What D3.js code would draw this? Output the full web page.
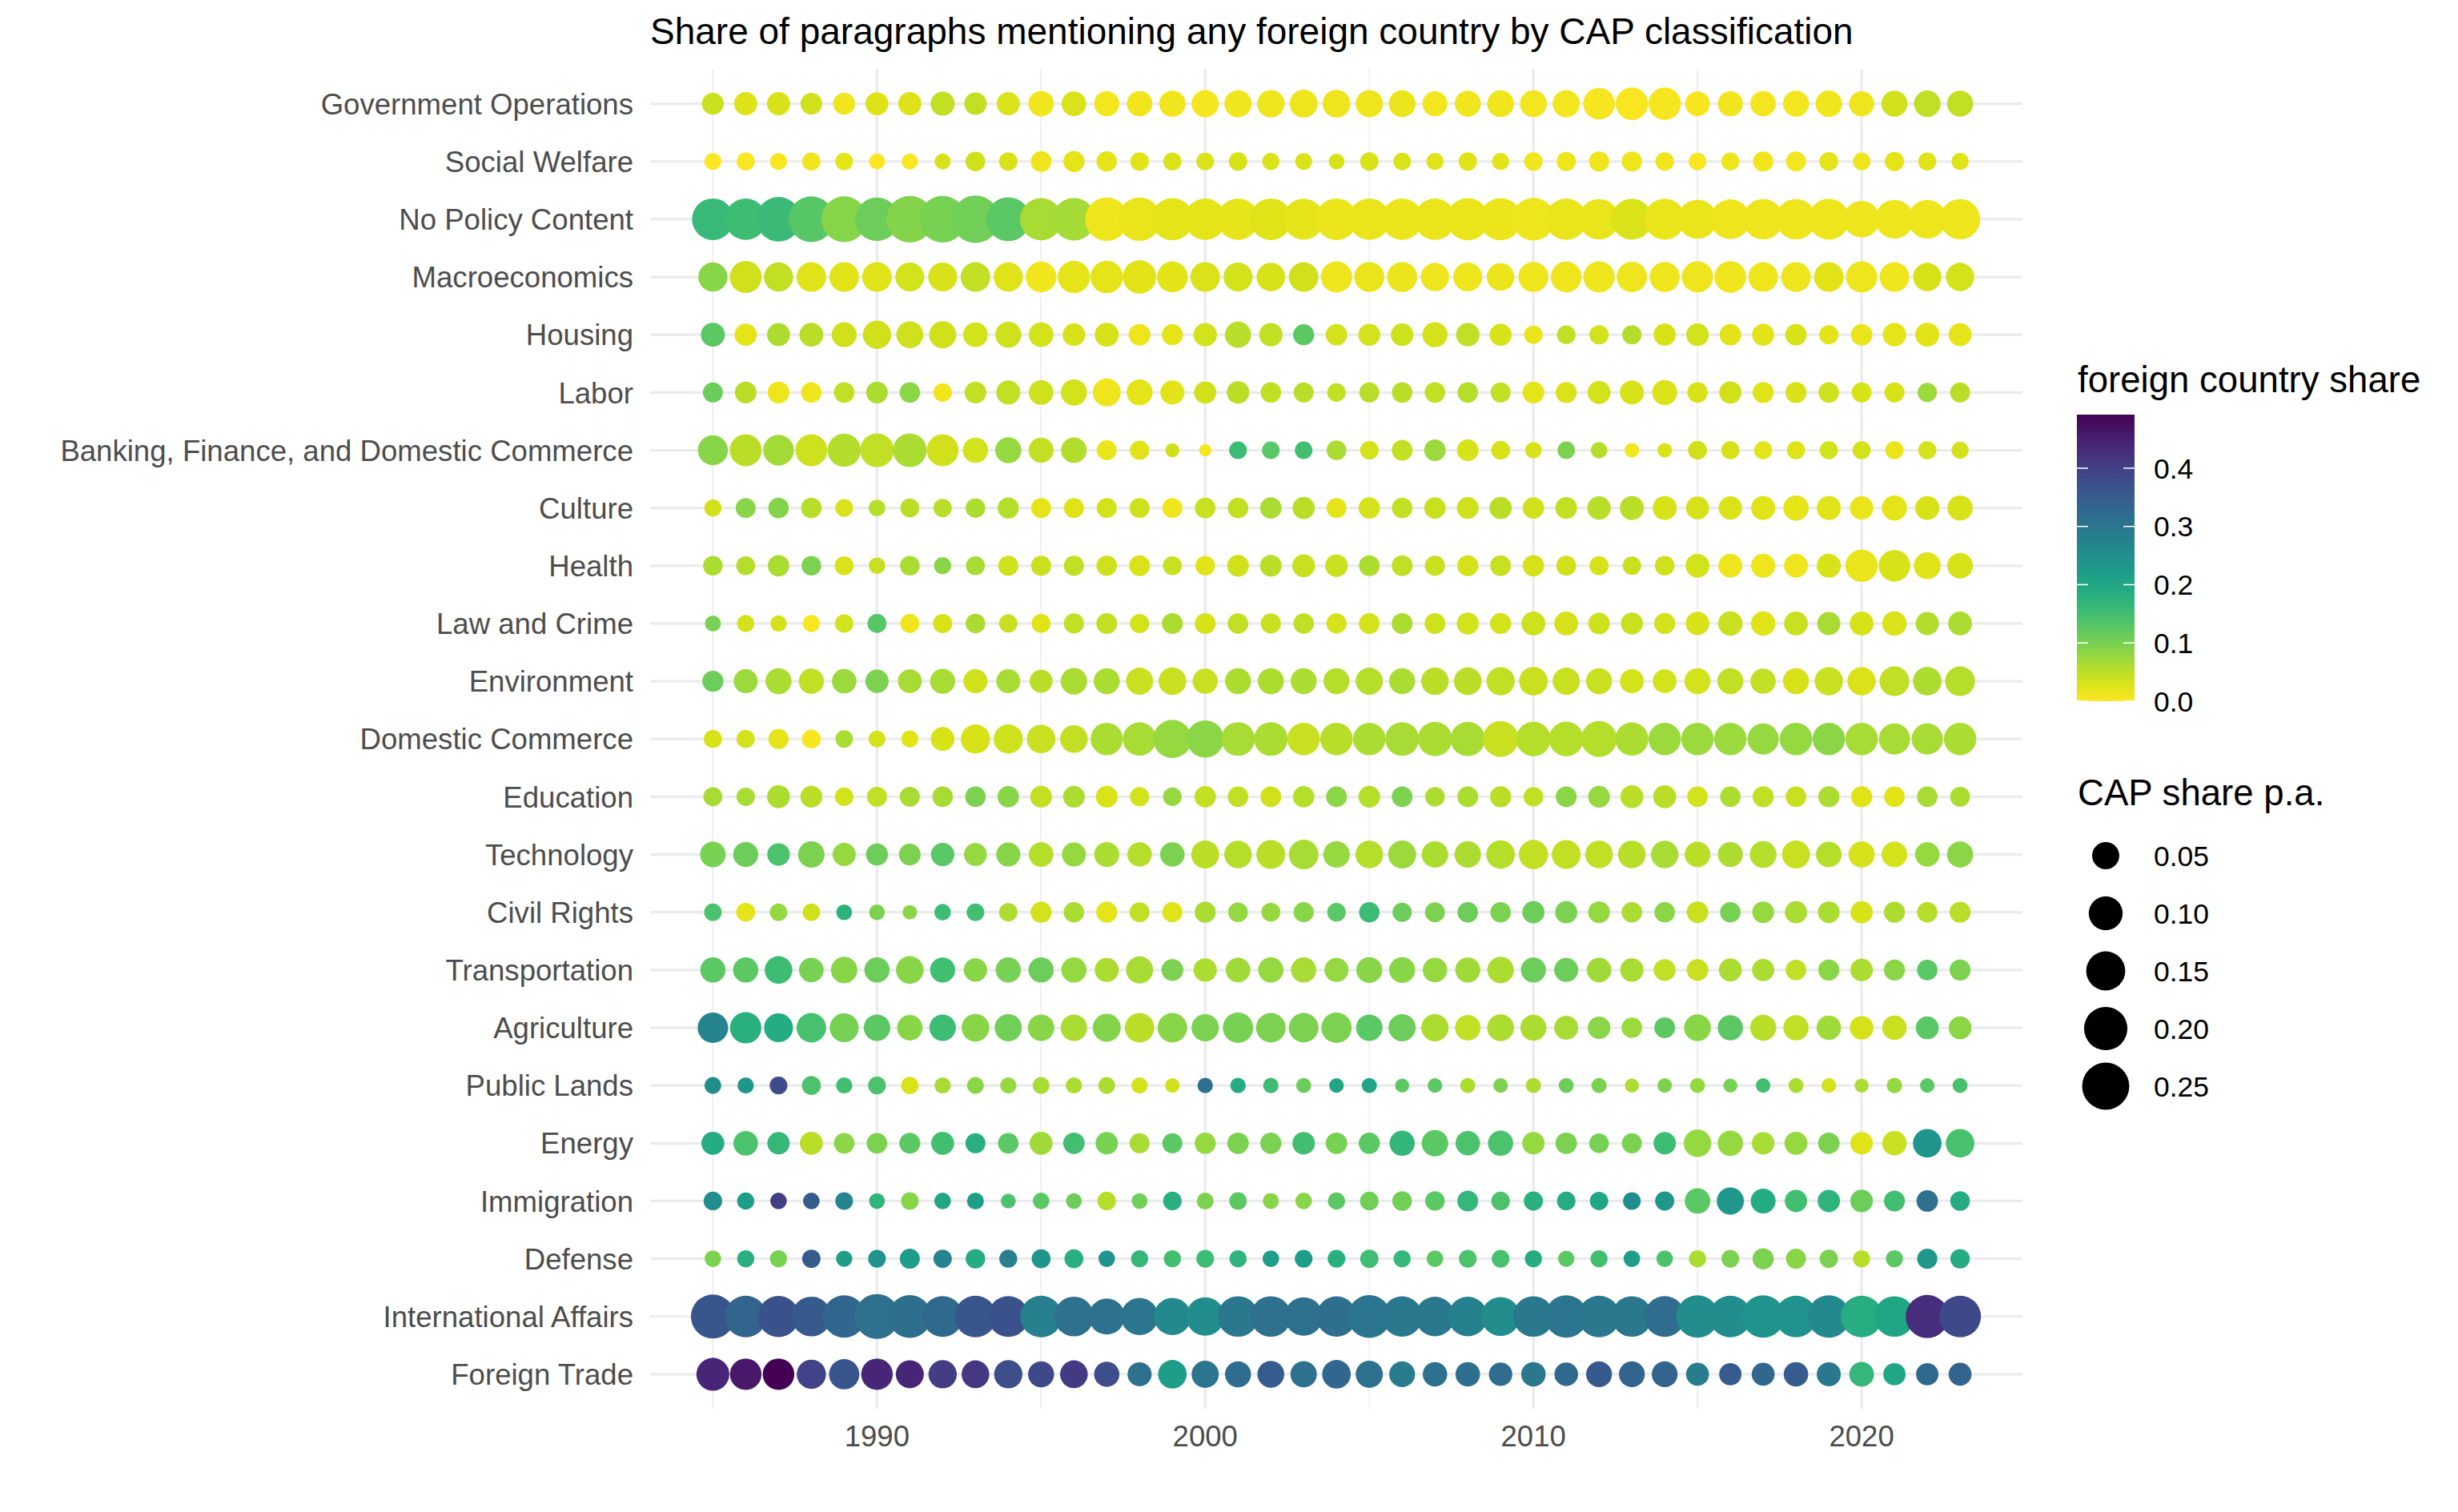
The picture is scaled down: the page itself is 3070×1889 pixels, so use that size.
<!DOCTYPE html>
<html>
<head>
<meta charset="utf-8">
<script src="https://cdn.jsdelivr.net/npm/d3@7"></script>
<style>
  body { margin: 0; background: #fff; }
  text { font-family: "Liberation Sans", Arial, sans-serif; }
</style>
</head>
<body>
<svg id="chart" width="3070" height="1889"></svg>
<script>
// ---- data ----
const categories = [
  "Government Operations", "Social Welfare", "No Policy Content", "Macroeconomics",
  "Housing", "Labor", "Banking, Finance, and Domestic Commerce", "Culture", "Health",
  "Law and Crime", "Environment", "Domestic Commerce", "Education", "Technology",
  "Civil Rights", "Transportation", "Agriculture", "Public Lands", "Energy",
  "Immigration", "Defense", "International Affairs", "Foreign Trade"
];

const years = [1985, 1986, 1987, 1988, 1989, 1990, 1991, 1992, 1993, 1994,
  1995, 1996, 1997, 1998, 1999, 2000, 2001, 2002, 2003, 2004,
  2005, 2006, 2007, 2008, 2009, 2010, 2011, 2012, 2013, 2014,
  2015, 2016, 2017, 2018, 2019, 2020, 2021, 2022, 2023];

const xTicks = [1990, 2000, 2010, 2020];
const xMinorTicks = [1985, 1995, 2005, 2015];

// CAP share p.a. (point size), one row per category, 1985..2023
const capShare = [
  [0.024,0.029,0.029,0.023,0.024,0.028,0.029,0.033,0.026,0.029,0.040,0.036,0.038,0.040,0.045,0.050,0.050,0.052,0.055,0.053,0.050,0.048,0.038,0.043,0.048,0.048,0.050,0.081,0.088,0.088,0.036,0.038,0.040,0.043,0.046,0.038,0.043,0.046,0.043],
  [0.0095,0.012,0.0095,0.012,0.011,0.008,0.008,0.008,0.016,0.013,0.0195,0.021,0.018,0.013,0.012,0.011,0.013,0.010,0.0095,0.0075,0.0127,0.0107,0.0098,0.0127,0.0098,0.0127,0.015,0.0177,0.0177,0.0127,0.0107,0.0117,0.0177,0.017,0.014,0.0107,0.015,0.0117,0.0098],
  [0.179,0.176,0.216,0.230,0.230,0.203,0.244,0.244,0.256,0.208,0.186,0.192,0.200,0.200,0.186,0.176,0.176,0.179,0.171,0.179,0.176,0.176,0.176,0.186,0.186,0.192,0.176,0.164,0.171,0.171,0.151,0.158,0.164,0.164,0.171,0.126,0.145,0.145,0.164],
  [0.063,0.083,0.063,0.066,0.067,0.066,0.061,0.061,0.066,0.063,0.074,0.086,0.088,0.096,0.074,0.067,0.061,0.059,0.066,0.078,0.069,0.069,0.057,0.061,0.053,0.069,0.074,0.078,0.072,0.069,0.078,0.081,0.066,0.067,0.066,0.078,0.066,0.057,0.057],
  [0.033,0.025,0.028,0.032,0.038,0.057,0.048,0.050,0.036,0.043,0.036,0.0265,0.033,0.023,0.0206,0.030,0.044,0.030,0.0206,0.022,0.024,0.0265,0.038,0.030,0.024,0.0127,0.013,0.015,0.015,0.025,0.0265,0.022,0.024,0.022,0.015,0.022,0.030,0.033,0.028],
  [0.017,0.023,0.023,0.0187,0.0187,0.023,0.0187,0.013,0.023,0.033,0.036,0.044,0.055,0.043,0.033,0.025,0.0265,0.0187,0.017,0.013,0.017,0.0187,0.0187,0.0187,0.017,0.023,0.0206,0.028,0.033,0.038,0.0187,0.025,0.0206,0.0206,0.0187,0.017,0.017,0.015,0.017],
  [0.069,0.083,0.074,0.083,0.093,0.098,0.098,0.083,0.039,0.044,0.038,0.041,0.017,0.015,0.0057,0.005,0.011,0.0108,0.0108,0.016,0.0127,0.0198,0.022,0.023,0.014,0.0088,0.0105,0.0088,0.006,0.006,0.014,0.012,0.012,0.012,0.012,0.012,0.012,0.012,0.0098],
  [0.0098,0.017,0.0187,0.0187,0.011,0.0088,0.014,0.0127,0.016,0.0206,0.017,0.017,0.017,0.017,0.017,0.0187,0.0187,0.022,0.025,0.017,0.022,0.0187,0.022,0.023,0.025,0.022,0.023,0.030,0.033,0.033,0.028,0.030,0.033,0.039,0.033,0.030,0.038,0.033,0.039],
  [0.016,0.014,0.022,0.016,0.014,0.0088,0.016,0.0098,0.014,0.0177,0.0177,0.0177,0.0187,0.0198,0.014,0.016,0.023,0.023,0.028,0.0265,0.0198,0.0198,0.0177,0.0206,0.0198,0.022,0.017,0.015,0.0127,0.016,0.032,0.032,0.033,0.032,0.033,0.086,0.081,0.048,0.041],
  [0.0078,0.0098,0.0083,0.0098,0.0127,0.014,0.014,0.015,0.016,0.0127,0.014,0.0177,0.0198,0.015,0.0198,0.0198,0.0187,0.0177,0.0187,0.0177,0.0198,0.0198,0.0198,0.024,0.0206,0.032,0.032,0.022,0.024,0.0206,0.030,0.035,0.035,0.032,0.029,0.032,0.035,0.029,0.032],
  [0.0206,0.033,0.043,0.039,0.035,0.030,0.032,0.038,0.033,0.033,0.028,0.046,0.043,0.050,0.053,0.039,0.043,0.043,0.043,0.043,0.050,0.043,0.052,0.053,0.057,0.059,0.050,0.043,0.033,0.032,0.043,0.043,0.039,0.043,0.057,0.057,0.067,0.059,0.067],
  [0.012,0.012,0.0177,0.014,0.0105,0.0093,0.0098,0.032,0.063,0.063,0.059,0.053,0.086,0.096,0.141,0.131,0.098,0.098,0.088,0.088,0.088,0.098,0.104,0.104,0.117,0.106,0.106,0.117,0.093,0.088,0.088,0.088,0.078,0.088,0.088,0.088,0.078,0.078,0.088],
  [0.014,0.0127,0.028,0.024,0.013,0.017,0.017,0.0187,0.0187,0.022,0.023,0.023,0.023,0.015,0.013,0.022,0.0187,0.0198,0.022,0.0198,0.023,0.0198,0.016,0.0198,0.0206,0.016,0.0198,0.023,0.028,0.028,0.0187,0.0187,0.0206,0.0187,0.0206,0.0206,0.0187,0.0187,0.017],
  [0.041,0.038,0.0265,0.046,0.029,0.024,0.023,0.030,0.028,0.033,0.036,0.033,0.038,0.035,0.035,0.055,0.052,0.061,0.066,0.046,0.053,0.055,0.046,0.046,0.059,0.063,0.061,0.053,0.053,0.052,0.041,0.038,0.048,0.055,0.041,0.044,0.041,0.035,0.044],
  [0.0105,0.014,0.0105,0.0105,0.0074,0.0074,0.006,0.0088,0.011,0.0127,0.0206,0.0187,0.0206,0.017,0.0177,0.0206,0.016,0.014,0.0177,0.013,0.0187,0.015,0.017,0.0187,0.0187,0.025,0.025,0.023,0.0187,0.0187,0.023,0.0187,0.023,0.025,0.023,0.025,0.0206,0.0187,0.0206],
  [0.039,0.039,0.053,0.036,0.046,0.039,0.053,0.038,0.030,0.039,0.039,0.039,0.033,0.050,0.024,0.030,0.036,0.039,0.039,0.033,0.043,0.043,0.035,0.038,0.046,0.038,0.033,0.036,0.030,0.024,0.023,0.028,0.025,0.0187,0.0206,0.0265,0.0206,0.0187,0.0206],
  [0.072,0.079,0.061,0.066,0.061,0.046,0.040,0.046,0.053,0.050,0.046,0.046,0.055,0.065,0.066,0.051,0.071,0.066,0.066,0.071,0.046,0.050,0.051,0.040,0.048,0.043,0.033,0.0265,0.019,0.0198,0.048,0.039,0.043,0.039,0.035,0.031,0.035,0.028,0.028],
  [0.0093,0.0083,0.011,0.014,0.0083,0.011,0.0105,0.0083,0.0093,0.0083,0.0093,0.0083,0.0093,0.0083,0.006,0.007,0.007,0.007,0.0064,0.0061,0.0067,0.0056,0.006,0.0067,0.006,0.0067,0.0064,0.0067,0.0056,0.006,0.0064,0.0056,0.006,0.0064,0.006,0.0056,0.007,0.006,0.0064],
  [0.028,0.036,0.0255,0.028,0.019,0.019,0.020,0.028,0.0172,0.019,0.028,0.022,0.0255,0.0172,0.0172,0.021,0.022,0.021,0.0265,0.022,0.021,0.039,0.046,0.035,0.039,0.0255,0.022,0.016,0.0172,0.0255,0.052,0.040,0.0265,0.028,0.022,0.0265,0.035,0.059,0.059],
  [0.013,0.0098,0.0088,0.0088,0.011,0.0074,0.011,0.0088,0.0093,0.0064,0.0088,0.0074,0.013,0.0074,0.013,0.0093,0.0105,0.0079,0.0088,0.0098,0.013,0.016,0.0155,0.020,0.013,0.0145,0.013,0.0125,0.011,0.0145,0.040,0.050,0.037,0.0255,0.0255,0.0265,0.020,0.022,0.016],
  [0.0088,0.0098,0.0098,0.0125,0.0084,0.011,0.0172,0.0125,0.0155,0.0117,0.014,0.014,0.0088,0.0098,0.0098,0.011,0.0098,0.0088,0.011,0.011,0.0125,0.0098,0.0088,0.011,0.011,0.0098,0.0084,0.0098,0.0088,0.0088,0.0098,0.011,0.021,0.0172,0.0125,0.0098,0.0098,0.018,0.0155],
  [0.208,0.180,0.173,0.157,0.190,0.220,0.194,0.170,0.180,0.170,0.180,0.157,0.119,0.130,0.130,0.143,0.167,0.167,0.143,0.164,0.194,0.164,0.154,0.154,0.148,0.167,0.190,0.180,0.167,0.170,0.190,0.180,0.190,0.180,0.190,0.180,0.167,0.197,0.180],
  [0.091,0.080,0.080,0.063,0.071,0.080,0.055,0.057,0.053,0.057,0.043,0.053,0.039,0.033,0.059,0.050,0.043,0.048,0.045,0.059,0.050,0.042,0.035,0.035,0.030,0.035,0.031,0.042,0.042,0.042,0.028,0.0255,0.028,0.035,0.033,0.036,0.0255,0.0255,0.028]
];

// foreign country share (point colour), same layout
const foreignShare = [
  [0.04,0.025,0.03,0.035,0.01,0.025,0.025,0.045,0.045,0.028,0.01,0.028,0.008,0.01,0.01,0.007,0.01,0.013,0.013,0.012,0.013,0.015,0.008,0.01,0.01,0.008,0.008,0.006,0.004,0.006,0.006,0.01,0.008,0.008,0.01,0.013,0.035,0.048,0.045],
  [0,0.003,0.005,0.01,0.02,0.003,0.005,0.03,0.035,0.03,0.012,0.02,0.02,0.022,0.027,0.027,0.03,0.027,0.027,0.03,0.03,0.027,0.024,0.024,0.022,0.01,0.012,0.01,0.012,0.011,0.004,0.013,0.011,0.008,0.02,0.012,0.02,0.024,0.024],
  [0.16,0.155,0.158,0.13,0.09,0.11,0.092,0.1,0.107,0.125,0.065,0.066,0.012,0.017,0.02,0.02,0.019,0.024,0.02,0.015,0.017,0.015,0.017,0.017,0.015,0.013,0.017,0.017,0.027,0.017,0.017,0.013,0.013,0.013,0.013,0.012,0.012,0.012,0.012],
  [0.088,0.035,0.045,0.024,0.022,0.024,0.033,0.03,0.045,0.024,0.01,0.02,0.02,0.022,0.022,0.027,0.033,0.03,0.035,0.013,0.017,0.015,0.012,0.012,0.015,0.012,0.012,0.012,0.012,0.012,0.013,0.013,0.012,0.012,0.022,0.013,0.01,0.03,0.033],
  [0.124,0.02,0.06,0.05,0.035,0.035,0.038,0.035,0.033,0.038,0.033,0.03,0.03,0.013,0.02,0.033,0.052,0.045,0.124,0.033,0.033,0.038,0.032,0.048,0.03,0.017,0.048,0.033,0.056,0.03,0.033,0.022,0.022,0.03,0.022,0.017,0.02,0.022,0.02],
  [0.11,0.05,0.012,0.012,0.045,0.06,0.085,0.01,0.045,0.048,0.038,0.033,0.013,0.02,0.022,0.035,0.05,0.045,0.052,0.045,0.052,0.052,0.048,0.054,0.045,0.02,0.027,0.033,0.03,0.027,0.03,0.035,0.024,0.03,0.038,0.03,0.03,0.074,0.05],
  [0.088,0.05,0.068,0.038,0.056,0.048,0.063,0.035,0.033,0.078,0.045,0.056,0.017,0.024,0.035,0.006,0.155,0.125,0.148,0.063,0.033,0.045,0.074,0.03,0.03,0.03,0.097,0.054,0.01,0.027,0.035,0.032,0.02,0.024,0.033,0.032,0.017,0.032,0.033],
  [0.035,0.088,0.092,0.052,0.027,0.054,0.05,0.052,0.06,0.054,0.02,0.024,0.033,0.038,0.012,0.042,0.045,0.063,0.05,0.02,0.032,0.045,0.042,0.038,0.05,0.035,0.045,0.052,0.05,0.03,0.032,0.027,0.024,0.02,0.024,0.017,0.02,0.03,0.03],
  [0.06,0.054,0.063,0.097,0.027,0.042,0.063,0.088,0.065,0.038,0.042,0.048,0.038,0.027,0.042,0.022,0.035,0.05,0.042,0.042,0.06,0.048,0.042,0.032,0.042,0.032,0.035,0.03,0.042,0.038,0.033,0.013,0.013,0.012,0.03,0.017,0.03,0.024,0.03],
  [0.1,0.033,0.033,0.004,0.033,0.13,0.012,0.03,0.063,0.042,0.024,0.048,0.045,0.033,0.063,0.03,0.045,0.042,0.048,0.03,0.033,0.06,0.038,0.033,0.033,0.038,0.032,0.038,0.042,0.033,0.03,0.042,0.024,0.042,0.065,0.03,0.027,0.056,0.063],
  [0.11,0.074,0.063,0.048,0.074,0.097,0.065,0.065,0.035,0.065,0.05,0.063,0.063,0.042,0.042,0.042,0.06,0.06,0.063,0.054,0.054,0.063,0.05,0.05,0.048,0.042,0.042,0.042,0.033,0.033,0.033,0.045,0.045,0.03,0.042,0.027,0.048,0.06,0.054],
  [0.03,0.033,0.02,0.004,0.063,0.033,0.022,0.03,0.03,0.038,0.042,0.045,0.063,0.065,0.078,0.085,0.065,0.063,0.042,0.052,0.063,0.065,0.063,0.065,0.042,0.054,0.054,0.054,0.06,0.074,0.074,0.074,0.078,0.078,0.085,0.065,0.065,0.065,0.063],
  [0.065,0.065,0.06,0.05,0.033,0.048,0.065,0.065,0.097,0.088,0.045,0.06,0.027,0.033,0.078,0.045,0.045,0.035,0.054,0.085,0.054,0.097,0.06,0.063,0.05,0.048,0.085,0.078,0.05,0.05,0.033,0.06,0.048,0.042,0.06,0.024,0.022,0.065,0.063],
  [0.1,0.11,0.14,0.097,0.078,0.11,0.097,0.125,0.078,0.088,0.054,0.078,0.063,0.054,0.097,0.05,0.054,0.05,0.065,0.078,0.054,0.074,0.06,0.06,0.054,0.045,0.045,0.048,0.052,0.065,0.05,0.06,0.054,0.042,0.054,0.032,0.033,0.078,0.085],
  [0.14,0.02,0.078,0.035,0.175,0.097,0.085,0.155,0.148,0.06,0.033,0.063,0.02,0.048,0.024,0.063,0.078,0.078,0.088,0.125,0.155,0.11,0.097,0.11,0.097,0.11,0.097,0.078,0.063,0.085,0.042,0.1,0.078,0.063,0.063,0.03,0.06,0.054,0.052],
  [0.124,0.124,0.155,0.1,0.088,0.11,0.088,0.148,0.088,0.1,0.11,0.078,0.06,0.065,0.097,0.06,0.07,0.078,0.065,0.078,0.088,0.088,0.078,0.07,0.06,0.11,0.11,0.07,0.065,0.048,0.042,0.063,0.063,0.048,0.085,0.06,0.085,0.125,0.097],
  [0.27,0.18,0.19,0.143,0.102,0.124,0.088,0.155,0.088,0.107,0.088,0.063,0.092,0.05,0.088,0.097,0.1,0.097,0.097,0.097,0.125,0.11,0.06,0.048,0.06,0.06,0.065,0.085,0.074,0.124,0.088,0.124,0.052,0.048,0.07,0.032,0.042,0.125,0.085],
  [0.25,0.23,0.38,0.14,0.148,0.14,0.027,0.065,0.088,0.078,0.065,0.06,0.06,0.033,0.035,0.31,0.19,0.155,0.11,0.2,0.2,0.124,0.124,0.06,0.097,0.06,0.11,0.097,0.06,0.097,0.078,0.1,0.148,0.06,0.033,0.063,0.078,0.124,0.143],
  [0.19,0.14,0.165,0.05,0.085,0.097,0.124,0.148,0.18,0.125,0.07,0.148,0.1,0.065,0.124,0.078,0.097,0.097,0.148,0.1,0.125,0.168,0.124,0.14,0.14,0.078,0.097,0.1,0.097,0.155,0.078,0.078,0.065,0.078,0.097,0.024,0.042,0.235,0.143],
  [0.25,0.22,0.4,0.35,0.27,0.172,0.088,0.2,0.22,0.14,0.125,0.11,0.054,0.107,0.18,0.097,0.124,0.088,0.088,0.124,0.107,0.107,0.124,0.165,0.14,0.18,0.19,0.2,0.25,0.23,0.125,0.23,0.19,0.148,0.172,0.11,0.148,0.31,0.19],
  [0.097,0.18,0.1,0.35,0.22,0.24,0.22,0.27,0.19,0.28,0.235,0.18,0.24,0.165,0.148,0.155,0.172,0.22,0.22,0.18,0.15,0.165,0.124,0.14,0.143,0.19,0.124,0.148,0.22,0.14,0.063,0.097,0.097,0.088,0.097,0.054,0.124,0.23,0.19],
  [0.36,0.335,0.37,0.355,0.33,0.31,0.315,0.325,0.36,0.37,0.28,0.31,0.31,0.3,0.26,0.25,0.295,0.31,0.31,0.315,0.3,0.295,0.295,0.28,0.25,0.295,0.3,0.295,0.295,0.32,0.25,0.25,0.24,0.24,0.26,0.185,0.2,0.43,0.384],
  [0.44,0.46,0.492,0.395,0.36,0.44,0.44,0.405,0.415,0.375,0.384,0.41,0.375,0.31,0.22,0.3,0.32,0.35,0.31,0.33,0.31,0.29,0.31,0.315,0.32,0.295,0.325,0.355,0.335,0.335,0.29,0.35,0.33,0.35,0.295,0.165,0.2,0.325,0.335]
];

const sizeBreaks = [0.05, 0.10, 0.15, 0.20, 0.25];
const colorTicks = [0.0, 0.1, 0.2, 0.3, 0.4];

const titleText = "Share of paragraphs mentioning any foreign country by CAP classification";

// ---- layout ----
const svg = d3.select("#chart");
const panel = { left: 812.5, right: 2526, top: 86.3, bottom: 1760.2 };
const axisColor = "#4d4d4d";
const gridColor = "#ebebeb";

let points = [];
categories.forEach((cat, i) => {
  years.forEach((yr, j) => {
    points.push({ cat: cat, year: yr, cap: capShare[i][j], foreign: foreignShare[i][j] });
  });
});

let x = d3.scaleLinear()
  .domain([1983.1, 2024.9])
  .range([panel.left, panel.right]);

let y = d3.scalePoint()
  .domain(categories)
  .range([panel.top, panel.bottom])
  .padding(0.6);

// ggplot-like area palette: diameter grows with sqrt of (value - min)
let capMin = d3.min(points, d => d.cap);
let sizeSqrt = d3.scaleSqrt().domain([0, 1]).range([0, 88]);
function diameter(v) { return 15.3 + sizeSqrt(Math.max(0, v - capMin)); }

let colorMax = d3.max(points, d => d.foreign);
let color = d3.scaleSequential(t => d3.interpolateViridis(1 - t))
  .domain([0, colorMax]);

/* ----------- grid ----------- */
let grid = svg.append("g");

grid.selectAll("line.minor").data(xMinorTicks).enter()
  .append("line")
  .attr("x1", d => x(d)).attr("x2", d => x(d))
  .attr("y1", panel.top).attr("y2", panel.bottom)
  .attr("stroke", gridColor).attr("stroke-width", 1.6);

grid.selectAll("line.majorx").data(xTicks).enter()
  .append("line")
  .attr("x1", d => x(d)).attr("x2", d => x(d))
  .attr("y1", panel.top).attr("y2", panel.bottom)
  .attr("stroke", gridColor).attr("stroke-width", 3.2);

grid.selectAll("line.majory").data(categories).enter()
  .append("line")
  .attr("x1", panel.left).attr("x2", panel.right)
  .attr("y1", d => y(d)).attr("y2", d => y(d))
  .attr("stroke", gridColor).attr("stroke-width", 3.2);

/* ----------- points ----------- */
svg.append("g").selectAll("circle").data(points).enter()
  .append("circle")
  .attr("cx", d => x(d.year))
  .attr("cy", d => y(d.cat))
  .attr("r", d => diameter(d.cap) / 2)
  .attr("fill", d => color(d.foreign));

/* ----------- axes ----------- */
svg.append("g").selectAll("text").data(categories).enter()
  .append("text")
  .attr("x", 791)
  .attr("y", d => y(d))
  .attr("dy", "0.36em")
  .attr("text-anchor", "end")
  .attr("font-size", 36.6)
  .attr("fill", axisColor)
  .text(d => d);

svg.append("g").selectAll("text").data(xTicks).enter()
  .append("text")
  .attr("x", d => x(d))
  .attr("y", 1807)
  .attr("text-anchor", "middle")
  .attr("font-size", 36.6)
  .attr("fill", axisColor)
  .text(d => d);

/* ----------- title ----------- */
svg.append("text")
  .attr("x", 812)
  .attr("y", 55)
  .attr("font-size", 46)
  .attr("fill", "#000")
  .text(titleText);

/* ----------- colour legend ----------- */
const bar = { x: 2594, y: 518, w: 72, h: 358 };
let legend = svg.append("g");

legend.append("text")
  .attr("x", 2595).attr("y", 490)
  .attr("font-size", 45.6)
  .text("foreign country share");

let grad = svg.append("defs").append("linearGradient")
  .attr("id", "viridisGrad")
  .attr("x1", 0).attr("y1", 1).attr("x2", 0).attr("y2", 0);
d3.range(0, 1.0001, 0.05).forEach(t => {
  grad.append("stop")
    .attr("offset", t)
    .attr("stop-color", color(t * colorMax));
});

legend.append("rect")
  .attr("x", bar.x).attr("y", bar.y)
  .attr("width", bar.w).attr("height", bar.h)
  .attr("fill", "url(#viridisGrad)");

let barScale = d3.scaleLinear()
  .domain([0, colorMax])
  .range([bar.y + bar.h, bar.y]);

colorTicks.forEach(v => {
  let ty = barScale(v);
  legend.append("line")
    .attr("x1", bar.x).attr("x2", bar.x + 14)
    .attr("y1", ty).attr("y2", ty)
    .attr("stroke", "#fff").attr("stroke-width", 1.5);
  legend.append("line")
    .attr("x1", bar.x + bar.w - 14).attr("x2", bar.x + bar.w)
    .attr("y1", ty).attr("y2", ty)
    .attr("stroke", "#fff").attr("stroke-width", 1.5);
  legend.append("text")
    .attr("x", 2690).attr("y", ty)
    .attr("dy", "0.36em")
    .attr("font-size", 35.5)
    .text(v.toFixed(1));
});

/* ----------- size legend ----------- */
legend.append("text")
  .attr("x", 2595).attr("y", 1006)
  .attr("font-size", 45.6)
  .text("CAP share p.a.");

sizeBreaks.forEach((v, i) => {
  let cy = 1069 + i * 72;
  legend.append("circle")
    .attr("cx", 2630).attr("cy", cy)
    .attr("r", diameter(v) / 2)
    .attr("fill", "#000");
  legend.append("text")
    .attr("x", 2690).attr("y", cy)
    .attr("dy", "0.36em")
    .attr("font-size", 35.5)
    .text(v.toFixed(2));
});
</script>
</body>
</html>
